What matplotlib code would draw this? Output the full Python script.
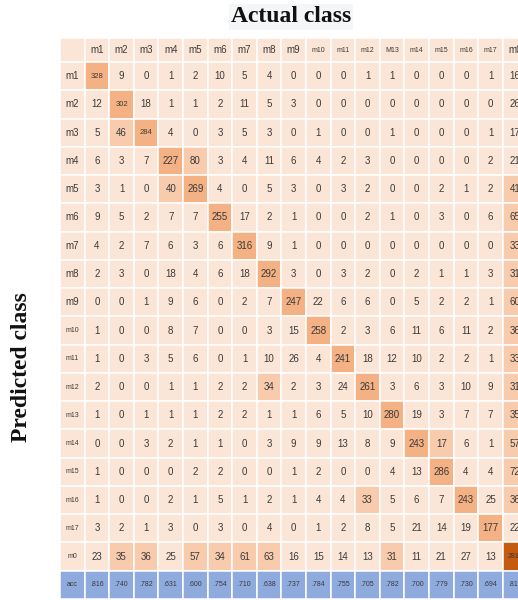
import matplotlib
matplotlib.use("Agg")
import matplotlib.pyplot as plt
from matplotlib.patches import Rectangle

row_labels = ["m1", "m2", "m3", "m4", "m5", "m6", "m7", "m8", "m9", "m10",
              "m11", "m12", "m13", "m14", "m15", "m16", "m17", "m0"]
col_labels = ["m1", "m2", "m3", "m4", "m5", "m6", "m7", "m8", "m9", "m10",
              "m11", "m12", "M13", "m14", "m15", "m16", "m17", "m0"]

# rows = predicted class, columns = actual class
conf = [
    [328, 9, 0, 1, 2, 10, 5, 4, 0, 0, 0, 1, 1, 0, 0, 0, 1, 16],
    [12, 302, 18, 1, 1, 2, 11, 5, 3, 0, 0, 0, 0, 0, 0, 0, 0, 26],
    [5, 46, 284, 4, 0, 3, 5, 3, 0, 1, 0, 0, 1, 0, 0, 0, 1, 17],
    [6, 3, 7, 227, 80, 3, 4, 11, 6, 4, 2, 3, 0, 0, 0, 0, 2, 21],
    [3, 1, 0, 40, 269, 4, 0, 5, 3, 0, 3, 2, 0, 0, 2, 1, 2, 41],
    [9, 5, 2, 7, 7, 255, 17, 2, 1, 0, 0, 2, 1, 0, 3, 0, 6, 65],
    [4, 2, 7, 6, 3, 6, 316, 9, 1, 0, 0, 0, 0, 0, 0, 0, 0, 33],
    [2, 3, 0, 18, 4, 6, 18, 292, 3, 0, 3, 2, 0, 2, 1, 1, 3, 31],
    [0, 0, 1, 9, 6, 0, 2, 7, 247, 22, 6, 6, 0, 5, 2, 2, 1, 60],
    [1, 0, 0, 8, 7, 0, 0, 3, 15, 258, 2, 3, 6, 11, 6, 11, 2, 36],
    [1, 0, 3, 5, 6, 0, 1, 10, 26, 4, 241, 18, 12, 10, 2, 2, 1, 33],
    [2, 0, 0, 1, 1, 2, 2, 34, 2, 3, 24, 261, 3, 6, 3, 10, 9, 31],
    [1, 0, 1, 1, 1, 2, 2, 1, 1, 6, 5, 10, 280, 19, 3, 7, 7, 35],
    [0, 0, 3, 2, 1, 1, 0, 3, 9, 9, 13, 8, 9, 243, 17, 6, 1, 57],
    [1, 0, 0, 0, 2, 2, 0, 0, 1, 2, 0, 0, 4, 13, 286, 4, 4, 72],
    [1, 0, 0, 2, 1, 5, 1, 2, 1, 4, 4, 33, 5, 6, 7, 243, 25, 36],
    [3, 2, 1, 3, 0, 3, 0, 4, 0, 1, 2, 8, 5, 21, 14, 19, 177, 22],
    [23, 35, 36, 25, 57, 34, 61, 63, 16, 15, 14, 13, 31, 11, 21, 27, 13, 2810],
]

acc = [".816", ".740", ".782", ".631", ".600", ".754", ".710", ".638", ".737",
       ".784", ".755", ".705", ".782", ".700", ".779", ".730", ".694", ".816"]

extra_light = [(13, 14)]  # m14 row / m15 column, shaded by hand in the original

PEACH = "#fbe5d6"
LIGHT = "#f8cbad"
MID = "#f4b183"
DARK = "#c55a11"
BLUE = "#8faadc"
TXT = "#3a3a3a"
FONT = "Liberation Sans"

fig = plt.figure(figsize=(5.18, 6.0), dpi=100)
ncols = len(col_labels) + 1
ax = fig.add_axes([60 / 518, 1 / 600, ncols * 24.6 / 518, 561 / 600])
ax.set_xlim(0, ncols)
head_h = 0.85
ax.set_ylim(head_h + len(row_labels) + 1, 0)
ax.axis("off")


def cell(c, top, h, color, text, size, tcolor=TXT):
    ax.add_patch(Rectangle((c, top), 1, h, facecolor=color, edgecolor="white", lw=1.1))
    if text != "":
        ax.text(c + 0.5, top + h / 2, text, ha="center", va="center",
                fontsize=size, color=tcolor, family=FONT)


def lab_size(s):
    return 7 if len(s) <= 2 else 5


# header row
cell(0, 0, head_h, PEACH, "", 7)
for j, lab in enumerate(col_labels):
    cell(j + 1, 0, head_h, PEACH, lab, lab_size(lab))

# matrix
for i, lab in enumerate(row_labels):
    top = head_h + i
    cell(0, top, 1, PEACH, lab, 5 if lab == "m0" else lab_size(lab))
    for j, v in enumerate(conf[i]):
        size = 7
        if v >= 1000:
            color, size = DARK, 5
        elif i == j:
            color = MID
            if i < 3:
                size = 5.5
        elif v >= 30 or (i, j) in extra_light:
            color = LIGHT
        else:
            color = PEACH
        cell(j + 1, top, 1, color, str(v), size)

# accuracy row
top = head_h + len(row_labels)
cell(0, top, 1, BLUE, "acc", 5)
for j, a in enumerate(acc):
    cell(j + 1, top, 1, BLUE, a, 5)

fig.text(291 / 518, 1 - 17 / 600, "Actual class", ha="center", va="center",
         fontsize=17, fontweight="bold", family="Liberation Serif", color="#111111",
         bbox=dict(boxstyle="square,pad=0.1", facecolor="#f5f6f8", edgecolor="none"))
fig.text(22 / 518, 1 - 367 / 600, "Predicted class", ha="center", va="center",
         rotation=90, fontsize=17, fontweight="bold", family="Liberation Serif",
         color="#111111")

fig.savefig("out.png", dpi=100)
